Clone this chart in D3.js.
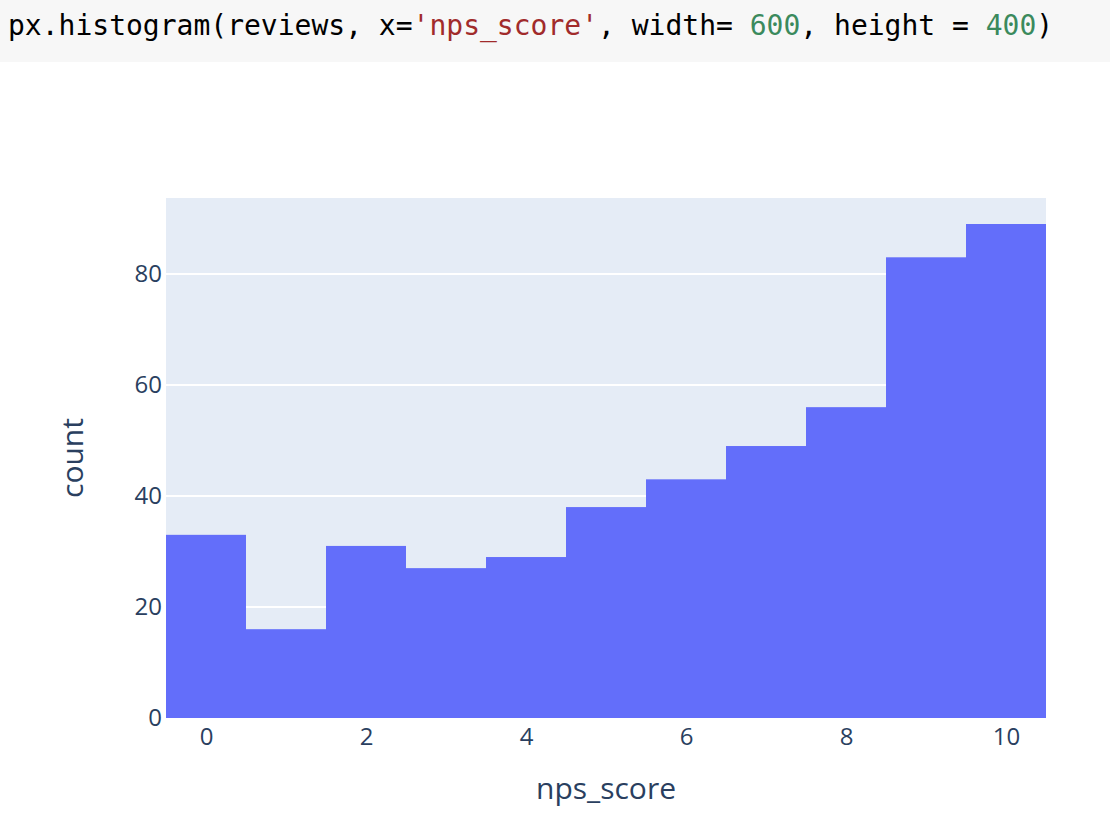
<!DOCTYPE html>
<html>
<head>
<meta charset="utf-8">
<style>
  body { margin: 0; background: #fff; }
  svg { display: block; }
  .tick text { font-family: 'Open Sans', verdana, arial, sans-serif; font-size: 24px; fill: #2a3f5f; }
</style>
</head>
<body>
<script src="https://d3js.org/d3.v7.min.js"></script>
<script>

// histogram counts per nps_score
var scores = [0, 1, 2, 3, 4, 5, 6, 7, 8, 9, 10];
var counts = [33, 16, 31, 27, 29, 38, 43, 49, 56, 83, 89];
var xTicks = [0, 2, 4, 6, 8, 10];
var yTicks = [0, 20, 40, 60, 80];

var W = 1110, H = 830;
var plot = {left: 166, right: 1046, top: 198, bottom: 718};

var svg = d3.select("body").append("svg")
    .attr("width", W)
    .attr("height", H);

// code cell at the top
svg.append("rect")
    .attr("x", 0).attr("y", 0)
    .attr("width", W).attr("height", 62)
    .attr("fill", "#f7f7f7");

var code = svg.append("text")
    .attr("x", 8).attr("y", 35)
    .style("font-family", "'DejaVu Sans Mono', monospace")
    .style("font-size", "28px")
    .attr("fill", "#000");
var parts = [
  ["px.histogram(reviews, x=", "#000"],
  ["'nps_score'", "#a12b2b"],
  [", width= ", "#000"],
  ["600", "#3b8a5d"],
  [", height = ", "#000"],
  ["400", "#3b8a5d"],
  [")", "#000"]
];
code.selectAll("tspan").data(parts).enter().append("tspan")
    .attr("fill", function(d) { return d[1]; })
    .style("white-space", "pre")
    .attr("xml:space", "preserve")
    .text(function(d) { return d[0]; });

var x = d3.scaleLinear().domain([-0.5, 10.5]).range([plot.left, plot.right]);
var y = d3.scaleLinear().domain([0, 89 / 0.95]).range([plot.bottom, plot.top]);

// plot background
svg.append("rect")
    .attr("x", plot.left).attr("y", plot.top)
    .attr("width", plot.right - plot.left)
    .attr("height", plot.bottom - plot.top)
    .attr("fill", "#e5ecf6");

// gridlines
svg.selectAll(".grid")
    .data(yTicks.filter(function(d) { return d > 0; }))
    .enter().append("line")
    .attr("x1", plot.left).attr("x2", plot.right)
    .attr("y1", function(d) { return y(d); })
    .attr("y2", function(d) { return y(d); })
    .attr("stroke", "#fff")
    .attr("stroke-width", 2);

// bars
svg.selectAll(".bar")
    .data(scores)
    .enter().append("rect")
    .attr("fill", "#636efa")
    .attr("x", function(d) { return x(d - 0.5); })
    .attr("width", function(d) { return x(d + 0.5) - x(d - 0.5); })
    .attr("y", function(d, i) { return y(counts[i]); })
    .attr("height", function(d, i) { return plot.bottom - y(counts[i]); });

// axes
svg.append("g")
    .attr("transform", "translate(0," + plot.bottom + ")")
    .call(d3.axisBottom(x).tickValues(xTicks).tickSize(0).tickPadding(10))
    .call(function(g) { g.select(".domain").remove(); });

svg.append("g")
    .attr("transform", "translate(" + plot.left + ",0)")
    .call(d3.axisLeft(y).tickValues(yTicks).tickSize(0).tickPadding(4))
    .call(function(g) { g.select(".domain").remove(); });

// axis titles
svg.append("text")
    .attr("transform", "translate(83," + (plot.top + plot.bottom) / 2 + ") rotate(-90)")
    .attr("text-anchor", "middle")
    .style("font-family", "'Open Sans', verdana, arial, sans-serif")
    .style("font-size", "30px")
    .attr("fill", "#2a3f5f")
    .text("count");

svg.append("text")
    .attr("x", (plot.left + plot.right) / 2)
    .attr("y", 799)
    .attr("text-anchor", "middle")
    .style("font-family", "'Open Sans', verdana, arial, sans-serif")
    .style("font-size", "30px")
    .attr("fill", "#2a3f5f")
    .text("nps_score");

</script>
</body>
</html>
